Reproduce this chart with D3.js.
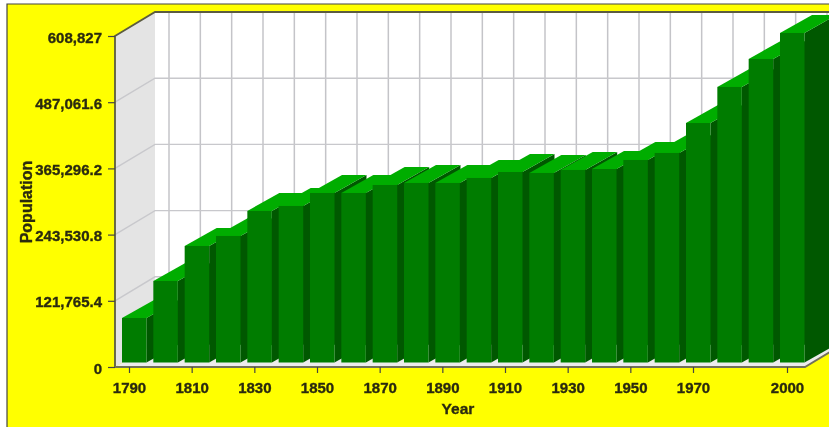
<!DOCTYPE html>
<html>
<head>
<meta charset="utf-8">
<script src="https://cdnjs.cloudflare.com/ajax/libs/d3/7.8.5/d3.min.js"></script>
<style>
  html, body { margin: 0; padding: 0; background: #fff; overflow: hidden; }
  text { font-family: "Liberation Sans", Arial, sans-serif; font-weight: bold; fill: #2b2b10; stroke: #2b2b10; stroke-width: 0.35px; }
</style>
</head>
<body>
<script>
// values
var years = [1790,1800,1810,1820,1830,1840,1850,1860,1870,1880,1890,1900,1910,1920,1930,1940,1950,1960,1970,1980,1990,2000];
var population = [81850,149900,214300,232700,278700,287900,311800,311800,326500,330200,330200,339400,350400,348600,354100,355900,372500,385400,440500,506800,558300,606100];
var yTicks = [0,121765.4,243530.8,365296.2,487061.6,608827];
var yLabels = ['0','121,765.4','243,530.8','365,296.2','487,061.6','608,827'];
var xTicks = [1790,1810,1830,1850,1870,1890,1910,1930,1950,1970,2000];

var w = 829, h = 427;

// 3d offset of the back wall, and of the bars inside the box
var wallX = 40, wallY = -24;
var barY = -4.5, barW = 24.5, depthX = 32, depthY = -18;

var svg = d3.select('body').append('svg')
            .attr('width', w)
            .attr('height', h);

// the source is a soft, rescaled screenshot
svg.append('filter').attr('id', 'soft')
   .append('feGaussianBlur').attr('stdDeviation', 0.6);

var g = svg.append('g').attr('filter', 'url(#soft)');

var x = d3.scalePoint().domain(years).range([129, 787]);
var y = d3.scaleLinear().domain([0, 608827]).range([367, 36]);

var left = 115, right = 805;

function pts(a) { return a.map(function(p) { return p.join(','); }).join(' '); }

// background, with the frame only showing on the top and left
g.append('rect').attr('x', 7).attr('y', 4).attr('width', w).attr('height', h)
 .attr('fill', '#ffff00');
g.append('polyline')
 .attr('points', pts([[7, h], [7, 4], [w + 5, 4]]))
 .attr('fill', 'none').attr('stroke', '#444').attr('stroke-width', 1.2);

// back wall, side wall, floor
g.append('rect').attr('x', left + wallX).attr('y', y(608827) + wallY)
 .attr('width', w).attr('height', y(0) - y(608827)).attr('fill', '#fff');
g.append('polygon')
 .attr('points', pts([[left, y(608827)], [left + wallX, y(608827) + wallY], [left + wallX, y(0) + wallY], [left, y(0)]]))
 .attr('fill', '#e4e4e4');
g.append('polygon')
 .attr('points', pts([[left, y(0)], [left + wallX, y(0) + wallY], [right + wallX, y(0) + wallY], [right, y(0)]]))
 .attr('fill', '#ececec');

// grid
g.selectAll('.gridV').data(years).enter().append('line')
 .attr('class', 'gridV')
 .attr('x1', function(d) { return x(d) + wallX; })
 .attr('x2', function(d) { return x(d) + wallX; })
 .attr('y1', y(608827) + wallY)
 .attr('y2', y(0) + wallY)
 .attr('stroke', '#c4c4c8').attr('stroke-width', 1.5);

g.selectAll('.gridH').data(yTicks.slice(1, 5)).enter().append('polyline')
 .attr('class', 'gridH')
 .attr('points', function(d) { return pts([[left, y(d)], [left + wallX, y(d) + wallY], [w, y(d) + wallY]]); })
 .attr('fill', 'none')
 .attr('stroke', '#c8c8cc').attr('stroke-width', 1.4);

// bars, left to right so each one covers the side of the one before
var bars = g.selectAll('.bar')
            .data(years.map(function(d, i) { return {year: d, value: population[i]}; }))
            .enter().append('g')
            .attr('class', 'bar');

function corners(d) {
  var x0 = x(d.year) - 7;
  var x1 = x0 + barW;
  var top = y(d.value) + barY;
  var bot = y(0) + barY;
  return {x0: x0, x1: x1, top: top, bot: bot};
}

bars.append('polygon')
    .attr('points', function(d) {
      var c = corners(d);
      return pts([[c.x1, c.top], [c.x1 + depthX, c.top + depthY], [c.x1 + depthX, c.bot + depthY], [c.x1, c.bot]]);
    })
    .attr('fill', '#005800');

bars.append('polygon')
    .attr('points', function(d) {
      var c = corners(d);
      return pts([[c.x0, c.top], [c.x0 + depthX, c.top + depthY], [c.x1 + depthX, c.top + depthY], [c.x1, c.top]]);
    })
    .attr('fill', '#00ad00');

bars.append('rect')
    .attr('x', function(d) { return corners(d).x0; })
    .attr('y', function(d) { return corners(d).top; })
    .attr('width', barW)
    .attr('height', function(d) { var c = corners(d); return c.bot - c.top; })
    .attr('fill', '#007c00');

// box outline
g.append('polyline')
 .attr('points', pts([[left, y(0)], [left, y(608827)], [left + wallX, y(608827) + wallY], [w, y(608827) + wallY]]))
 .attr('fill', 'none').attr('stroke', '#5c5c40').attr('stroke-width', 1.8);
g.append('polyline')
 .attr('points', pts([[left, y(0)], [right, y(0)], [right + wallX, y(0) + wallY]]))
 .attr('fill', 'none').attr('stroke', '#70705a').attr('stroke-width', 1.8);

// axes
var yAxis = d3.axisLeft(y)
              .tickValues(yTicks)
              .tickFormat(function(d, i) { return yLabels[i]; })
              .tickSize(7)
              .tickPadding(6);
var xAxis = d3.axisBottom(x)
              .tickValues(xTicks)
              .tickSize(6)
              .tickPadding(9);

var ay = g.append('g').attr('transform', 'translate(' + left + ',0)').call(yAxis);
var ax = g.append('g').attr('transform', 'translate(0,' + y(0) + ')').call(xAxis);

[ay, ax].forEach(function(a) {
  a.select('.domain').remove();
  a.selectAll('line').attr('stroke', '#444').attr('stroke-width', 1.2);
  a.selectAll('text').attr('font-size', '15px').attr('font-family', null);
});
ay.selectAll('text').attr('dy', '0.4em');

// axis titles
g.append('text')
 .attr('transform', 'translate(32,202) rotate(-90)')
 .attr('text-anchor', 'middle')
 .attr('font-size', '16px')
 .text('Population');

g.append('text')
 .attr('x', 458)
 .attr('y', 414)
 .attr('text-anchor', 'middle')
 .attr('font-size', '15.5px')
 .text('Year');
</script>
</body>
</html>
